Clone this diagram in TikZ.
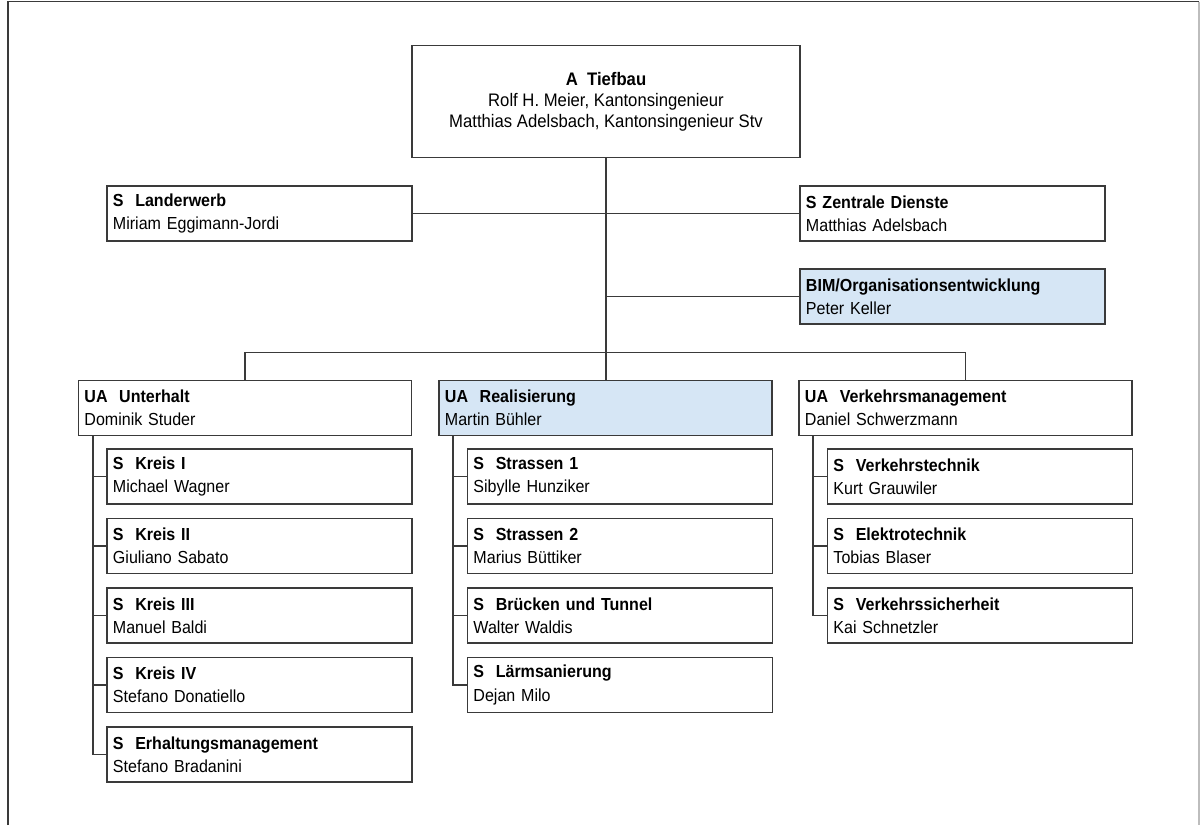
\documentclass[tikz,border=0pt]{standalone}
\usepackage{fontspec}
\setmainfont{Liberation Sans}[FakeStretch=0.92]
\usetikzlibrary{positioning,calc}
\definecolor{lineColor}{HTML}{3A3A3A}
\definecolor{bimColor}{HTML}{D6E6F5}
\definecolor{frameColor}{HTML}{BDBDBD}

\begin{document}
\begin{tikzpicture}[x=0.025cm, y=-0.025cm, line width=0.9pt,
 chief/.style={draw=lineColor, line width=1pt, fill=white, align=center,
   minimum width=9.7cm, minimum height=2.8cm, font=\fontsize{12.9}{14.8}\selectfont},
 sect/.style={draw=lineColor, line width=1pt, fill=white, align=left,
   inner xsep=0.15cm, text width=7.325cm, minimum height=1.375cm,
   font=\fontsize{12.4}{16.6}\selectfont},
 dept/.style={sect, text width=8.025cm},
 bim/.style={fill=bimColor}]
\useasboundingbox (0,0) rectangle (1200,825);
\draw[lineColor, line width=1pt] (8,825) -- (8,1.5) -- (1199,1.5);
\draw[frameColor, line width=1pt] (1199,1.5) -- (1199,825);

\node[chief] (tiefbau) at (606,101.5) {\textbf{A~~Tiefbau}\\Rolf H. Meier, Kantonsingenieur\\Matthias Adelsbach, Kantonsingenieur Stv};
\node[sect] (landerwerb) at (259.5,213.5) {\textbf{S~~Landerwerb}\\Miriam Eggimann-Jordi};
\node[sect] (zentral) at (952.5,213.5) {\textbf{S Zentrale Dienste}\\Matthias Adelsbach};
\node[sect, bim] (orgdev) at (952.5,296.5) {\textbf{BIM/Organisationsentwicklung}\\Peter Keller};

\node[dept] (unterhalt) at (245,408) {\textbf{UA~~Unterhalt}\\Dominik Studer};
\node[dept, bim] (realis) at (605.5,408) {\textbf{UA~~Realisierung}\\Martin Bühler};
\node[dept] (verkehr) at (965.5,408) {\textbf{UA~~Verkehrsmanagement}\\Daniel Schwerzmann};

% Unterhalt
\node[sect] (kreis1) at (259.5,476.5) {\textbf{S~~Kreis I}\\Michael Wagner};
\node[sect] (kreis2) at (259.5,546) {\textbf{S~~Kreis II}\\Giuliano Sabato};
\node[sect] (kreis3) at (259.5,615.5) {\textbf{S~~Kreis III}\\Manuel Baldi};
\node[sect] (kreis4) at (259.5,685) {\textbf{S~~Kreis IV}\\Stefano Donatiello};
\node[sect] (erhalt) at (259.5,754.5) {\textbf{S~~Erhaltungsmanagement}\\Stefano Bradanini};

% Realisierung
\node[sect] (strassen1) at (620,476.5) {\textbf{S~~Strassen 1}\\Sibylle Hunziker};
\node[sect] (strassen2) at (620,546) {\textbf{S~~Strassen 2}\\Marius Büttiker};
\node[sect] (bruecken) at (620,615.5) {\textbf{S~~Brücken und Tunnel}\\Walter Waldis};
\node[sect] (laerm) at (620,685) {\textbf{S~~Lärmsanierung}\\Dejan Milo};

% Verkehrsmanagement
\node[sect] (vtechnik) at (980,476.5) {\textbf{S~~Verkehrstechnik}\\Kurt Grauwiler};
\node[sect] (etechnik) at (980,546) {\textbf{S~~Elektrotechnik}\\Tobias Blaser};
\node[sect] (vsicher) at (980,615.5) {\textbf{S~~Verkehrssicherheit}\\Kai Schnetzler};

\draw[lineColor] (tiefbau.south) -- (tiefbau.south |- realis.north);
\draw[lineColor] (landerwerb.east) -- (zentral.west);
\draw[lineColor] (tiefbau.south |- orgdev.west) -- (orgdev.west);
\coordinate (bus) at (605.5,352.5);
\draw[lineColor] (unterhalt.north) |- (bus) -| (verkehr.north);

\coordinate (uspine) at (93,435.5);
\coordinate (rspine) at (453,435.5);
\coordinate (vspine) at (813,435.5);
\draw[lineColor] (uspine) |- (erhalt.west);
\draw[lineColor] (uspine |- kreis1.west) -- (kreis1.west);
\draw[lineColor] (uspine |- kreis2.west) -- (kreis2.west);
\draw[lineColor] (uspine |- kreis3.west) -- (kreis3.west);
\draw[lineColor] (uspine |- kreis4.west) -- (kreis4.west);
\draw[lineColor] (rspine) |- (laerm.west);
\draw[lineColor] (rspine |- strassen1.west) -- (strassen1.west);
\draw[lineColor] (rspine |- strassen2.west) -- (strassen2.west);
\draw[lineColor] (rspine |- bruecken.west) -- (bruecken.west);
\draw[lineColor] (vspine) |- (vsicher.west);
\draw[lineColor] (vspine |- vtechnik.west) -- (vtechnik.west);
\draw[lineColor] (vspine |- etechnik.west) -- (etechnik.west);
\end{tikzpicture}
\end{document}
